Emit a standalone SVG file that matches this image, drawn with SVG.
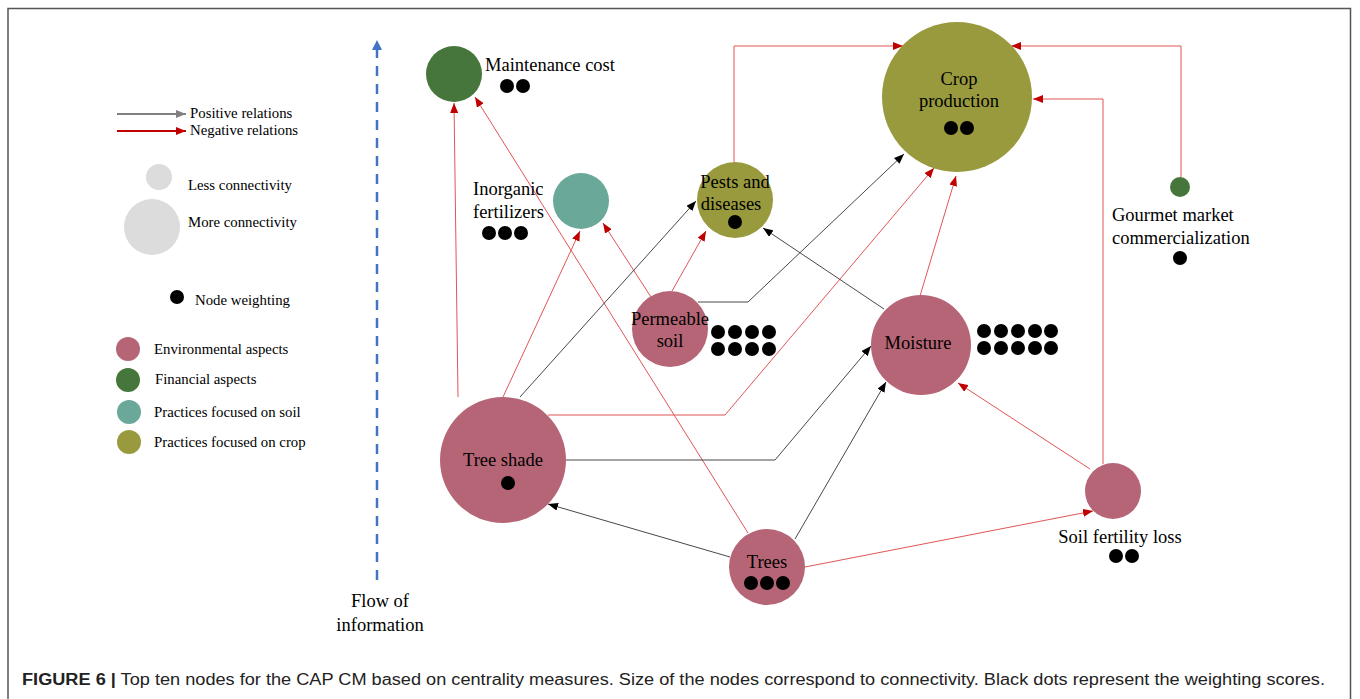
<svg xmlns="http://www.w3.org/2000/svg" width="1360" height="699" viewBox="0 0 1360 699">
<style>
.lbl{font-family:"Liberation Serif","Times New Roman",serif;font-size:18.5px;fill:#000}
.lg{font-family:"Liberation Serif","Times New Roman",serif;font-size:14.8px;fill:#000}
.env{fill:#B56576}.fin{fill:#46763C}.soil{fill:#6AA89A}.crop{fill:#999A3E}
.dot{fill:#000}
.neg{fill:none;stroke:#E05555;stroke-width:1;marker-end:url(#ah-red)}
.pos{fill:none;stroke:#333;stroke-width:0.9;marker-end:url(#ah-blk)}
</style>
<defs>
<marker id="ah-red" markerUnits="userSpaceOnUse" markerWidth="10" markerHeight="8" refX="10" refY="4" orient="auto"><path d="M0,0 L10,4 L0,8 z" fill="#C00000"/></marker>
<marker id="ah-blk" markerUnits="userSpaceOnUse" markerWidth="10" markerHeight="8" refX="10" refY="4" orient="auto"><path d="M0,0 L10,4 L0,8 z" fill="#000"/></marker>
<marker id="ah-grey" markerUnits="userSpaceOnUse" markerWidth="10" markerHeight="8" refX="10" refY="4" orient="auto"><path d="M0,0 L10,4 L0,8 z" fill="#808080"/></marker>
<marker id="ah-dred" markerUnits="userSpaceOnUse" markerWidth="10" markerHeight="8" refX="10" refY="4" orient="auto"><path d="M0,0 L10,4 L0,8 z" fill="#C00000"/></marker>
<marker id="ah-blue" markerUnits="userSpaceOnUse" markerWidth="10" markerHeight="10" refX="10" refY="5" orient="auto"><path d="M0,0 L10,5 L0,10 z" fill="#4472C4"/></marker>
</defs>
<rect x="0" y="0" width="1360" height="699" fill="#fff"/>
<rect x="8" y="8.5" width="1342.5" height="720" fill="none" stroke="#555" stroke-width="1.5"/>

<g id="legend">
<line x1="117" y1="114" x2="186" y2="114" stroke="#808080" stroke-width="2" marker-end="url(#ah-grey)"/>
<text class="lg" x="190" y="118">Positive relations</text>
<line x1="117" y1="131" x2="186" y2="131" stroke="#C00000" stroke-width="2" marker-end="url(#ah-dred)"/>
<text class="lg" x="190" y="135">Negative relations</text>
<circle cx="159" cy="177" r="13" fill="#DCDCDC"/>
<text class="lg" x="188" y="190">Less connectivity</text>
<circle cx="152" cy="227" r="28" fill="#DCDCDC"/>
<text class="lg" x="188" y="227">More connectivity</text>
<circle class="dot" cx="177" cy="297" r="7"/>
<text class="lg" x="195" y="305">Node weighting</text>
<circle class="env" cx="128" cy="349" r="12"/>
<text class="lg" x="154" y="354">Environmental aspects</text>
<circle class="fin" cx="128" cy="380" r="12"/>
<text class="lg" x="155" y="384">Financial aspects</text>
<circle class="soil" cx="129" cy="412" r="12"/>
<text class="lg" x="154" y="417">Practices focused on soil</text>
<circle class="crop" cx="129" cy="442" r="12"/>
<text class="lg" x="154" y="447">Practices focused on crop</text>
</g>

<g id="flow">
<line x1="377" y1="580" x2="377" y2="40" stroke="#4472C4" stroke-width="2.5" stroke-dasharray="10,8" marker-end="url(#ah-blue)"/>
<text class="lbl" x="380" y="607" text-anchor="middle" font-size="21">Flow of</text>
<text class="lbl" x="380" y="631" text-anchor="middle" font-size="21">information</text>
</g>

<g id="connectors">
<path class="neg" d="M458,397 L454,103"/>
<path class="neg" d="M748,533 L475,97"/>
<path class="neg" d="M503,397 L580,231"/>
<path class="neg" d="M651,297 L603,223"/>
<path class="neg" d="M672,291 L706,231"/>
<path class="pos" d="M520,397 L696,201"/>
<path class="pos" d="M698,302 L748,302 L904,154"/>
<path class="neg" d="M548,415 L725,415 L934,168"/>
<path class="neg" d="M920,296 L956,176"/>
<path class="pos" d="M884,309 L763,228"/>
<path class="neg" d="M734,162 L734,46 L903,46"/>
<path class="neg" d="M1181,177 L1181,46 L1011,46"/>
<path class="neg" d="M1103,464 L1103,99 L1033,99"/>
<path class="neg" d="M1090,469 L958,383"/>
<path class="pos" d="M566,460 L775,460 L871,346"/>
<path class="pos" d="M795,539 L886,382"/>
<path class="pos" d="M730,557 L548,504"/>
<path class="neg" d="M805,567 L1093,511"/>
</g>

<g id="maintenance-cost">
<circle class="fin" cx="454" cy="74" r="28"/>
<text class="lbl" x="485" y="71">Maintenance cost</text>
<circle class="dot" cx="507" cy="86" r="7"/><circle class="dot" cx="523" cy="86" r="7"/>
</g>
<g id="inorganic-fertilizers">
<circle class="soil" cx="581" cy="201" r="28"/>
<text class="lbl" x="473" y="195">Inorganic</text>
<text class="lbl" x="473" y="218">fertilizers</text>
<circle class="dot" cx="489" cy="233" r="7"/><circle class="dot" cx="505" cy="233" r="7"/><circle class="dot" cx="521" cy="233" r="7"/>
</g>
<g id="pests-diseases">
<circle class="crop" cx="735" cy="200" r="38"/>
<text class="lbl" x="735" y="188" text-anchor="middle">Pests and</text>
<text class="lbl" x="731" y="210" text-anchor="middle">diseases</text>
<circle class="dot" cx="735" cy="222" r="7"/>
</g>
<g id="crop-production">
<circle class="crop" cx="957" cy="97" r="75"/>
<text class="lbl" x="959" y="85" text-anchor="middle">Crop</text>
<text class="lbl" x="959" y="107" text-anchor="middle">production</text>
<circle class="dot" cx="951" cy="128" r="7"/><circle class="dot" cx="967" cy="128" r="7"/>
</g>
<g id="gourmet-market">
<circle class="fin" cx="1180" cy="187" r="10"/>
<text class="lbl" x="1112" y="221">Gourmet market</text>
<text class="lbl" x="1112" y="244">commercialization</text>
<circle class="dot" cx="1180" cy="258" r="7"/>
</g>
<g id="permeable-soil">
<circle class="env" cx="670" cy="329" r="38"/>
<text class="lbl" x="670" y="325" text-anchor="middle">Permeable</text>
<text class="lbl" x="670" y="347" text-anchor="middle">soil</text>
<circle class="dot" cx="718" cy="332" r="7"/><circle class="dot" cx="735" cy="332" r="7"/><circle class="dot" cx="752" cy="332" r="7"/><circle class="dot" cx="769" cy="332" r="7"/>
<circle class="dot" cx="718" cy="349" r="7"/><circle class="dot" cx="735" cy="349" r="7"/><circle class="dot" cx="752" cy="349" r="7"/><circle class="dot" cx="769" cy="349" r="7"/>
</g>
<g id="moisture">
<circle class="env" cx="921" cy="345" r="50"/>
<text class="lbl" x="918" y="349" text-anchor="middle">Moisture</text>
<circle class="dot" cx="984" cy="331" r="7"/><circle class="dot" cx="1001" cy="331" r="7"/><circle class="dot" cx="1018" cy="331" r="7"/><circle class="dot" cx="1035" cy="331" r="7"/><circle class="dot" cx="1051" cy="331" r="7"/>
<circle class="dot" cx="984" cy="348" r="7"/><circle class="dot" cx="1001" cy="348" r="7"/><circle class="dot" cx="1018" cy="348" r="7"/><circle class="dot" cx="1035" cy="348" r="7"/><circle class="dot" cx="1051" cy="348" r="7"/>
</g>
<g id="tree-shade">
<circle class="env" cx="503" cy="460" r="63"/>
<text class="lbl" x="503" y="466" text-anchor="middle">Tree shade</text>
<circle class="dot" cx="508" cy="483" r="7"/>
</g>
<g id="trees">
<circle class="env" cx="767" cy="567" r="38"/>
<text class="lbl" x="767" y="568" text-anchor="middle">Trees</text>
<circle class="dot" cx="751" cy="583" r="7"/><circle class="dot" cx="767" cy="583" r="7"/><circle class="dot" cx="783" cy="583" r="7"/>
</g>
<g id="soil-fertility-loss">
<circle class="env" cx="1113" cy="491" r="28"/>
<text class="lbl" x="1120" y="543" text-anchor="middle">Soil fertility loss</text>
<circle class="dot" cx="1116" cy="556" r="7"/><circle class="dot" cx="1132" cy="556" r="7"/>
</g>

<text x="22" y="685" font-family="'Liberation Sans',Arial,sans-serif" font-size="16" fill="#222" textLength="1303" lengthAdjust="spacingAndGlyphs"><tspan font-weight="bold">FIGURE 6 |</tspan> Top ten nodes for the CAP CM based on centrality measures. Size of the nodes correspond to connectivity. Black dots represent the weighting scores.</text>
</svg>
